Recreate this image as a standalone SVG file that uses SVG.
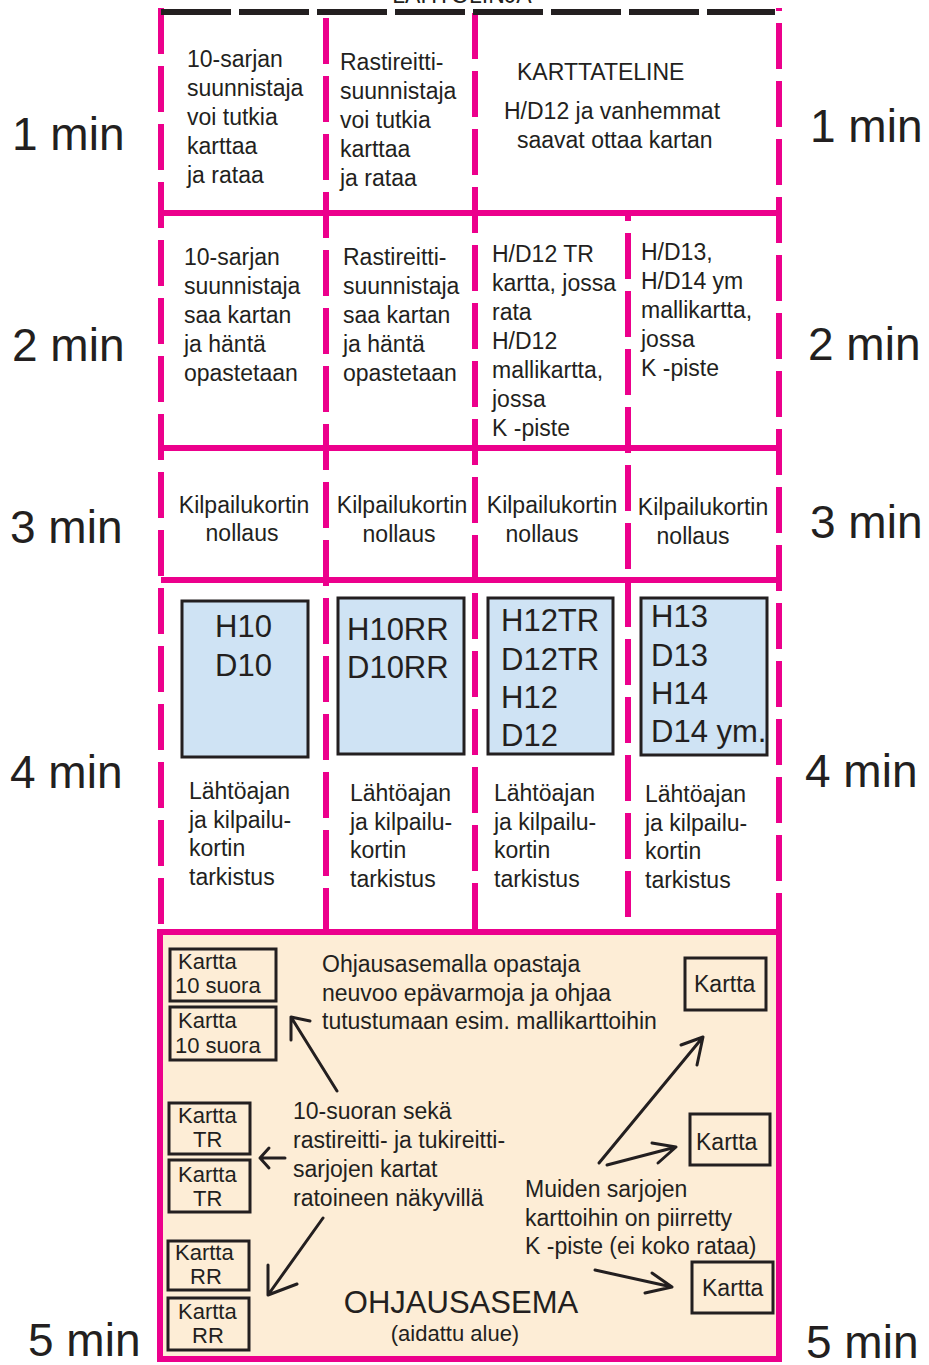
<svg xmlns="http://www.w3.org/2000/svg" width="929" height="1365" viewBox="0 0 929 1365">
<style>
text{font-family:"Liberation Sans",Arial,sans-serif;fill:#231f20}
.t{font-size:23px}
.k{font-size:22px}
.big{font-size:46px}
.box{font-size:31px}
.c{text-anchor:middle}
.pv{stroke:#ec008c;stroke-width:6;fill:none;stroke-dasharray:46 12}
.ph{stroke:#ec008c;stroke-width:6;fill:none}
.bl{fill:#cfe3f4;stroke:#231f20;stroke-width:3}
.kb{fill:none;stroke:#231f20;stroke-width:3}
.ar{stroke:#231f20;stroke-width:3;fill:none;stroke-linecap:round;stroke-linejoin:round}
</style>
<rect x="0" y="0" width="929" height="1365" fill="#ffffff"/>

<g id="ohjausasema-bg">
<rect x="160" y="932" width="619" height="427" fill="#fdedd6" stroke="#ec008c" stroke-width="6"/>
</g>

<g id="grid">
<line class="pv" x1="161" y1="8" x2="161" y2="930"/>
<line class="pv" x1="326" y1="8" x2="326" y2="930" stroke-dashoffset="-10"/>
<line class="pv" x1="475" y1="8" x2="475" y2="930" stroke-dashoffset="-5"/>
<line class="pv" x1="628" y1="213" x2="628" y2="930" stroke-dashoffset="-20"/>
<line class="pv" x1="779" y1="8" x2="779" y2="930" stroke-dashoffset="-15"/>
<line class="ph" x1="161" y1="213" x2="779" y2="213"/>
<line class="ph" x1="161" y1="448" x2="779" y2="448"/>
<line class="ph" x1="161" y1="580" x2="779" y2="580"/>
<line x1="161" y1="12" x2="775" y2="12" stroke="#231f20" stroke-width="6" stroke-dasharray="70 8"/>
<text x="462" y="3" class="t c">LÄHTÖLINJA</text>
</g>

<g id="time-labels">
<text x="12" y="150" class="big">1 min</text>
<text x="810" y="142" class="big">1 min</text>
<text x="12" y="361" class="big">2 min</text>
<text x="808" y="360" class="big">2 min</text>
<text x="10" y="543" class="big">3 min</text>
<text x="810" y="538" class="big">3 min</text>
<text x="10" y="788" class="big">4 min</text>
<text x="805" y="787" class="big">4 min</text>
<text x="28" y="1356" class="big">5 min</text>
<text x="806" y="1358" class="big">5 min</text>
</g>

<g id="r1c1"><text class="t" x="187" y="67">10-sarjan</text><text class="t" x="187" y="96">suunnistaja</text><text class="t" x="187" y="125">voi tutkia</text><text class="t" x="187" y="154">karttaa</text><text class="t" x="187" y="183">ja rataa</text></g>
<g id="r1c2"><text class="t" x="340" y="70">Rastireitti-</text><text class="t" x="340" y="99">suunnistaja</text><text class="t" x="340" y="128">voi tutkia</text><text class="t" x="340" y="157">karttaa</text><text class="t" x="340" y="186">ja rataa</text></g>
<g id="r1c3"><text class="t" x="517" y="80">KARTTATELINE</text><text class="t" x="504" y="119">H/D12 ja vanhemmat</text><text class="t" x="517" y="148">saavat ottaa kartan</text></g>

<g id="r2c1"><text class="t" x="184" y="265">10-sarjan</text><text class="t" x="184" y="294">suunnistaja</text><text class="t" x="184" y="323">saa kartan</text><text class="t" x="184" y="352">ja häntä</text><text class="t" x="184" y="381">opastetaan</text></g>
<g id="r2c2"><text class="t" x="343" y="265">Rastireitti-</text><text class="t" x="343" y="294">suunnistaja</text><text class="t" x="343" y="323">saa kartan</text><text class="t" x="343" y="352">ja häntä</text><text class="t" x="343" y="381">opastetaan</text></g>
<g id="r2c3"><text class="t" x="492" y="262">H/D12 TR</text><text class="t" x="492" y="291">kartta, jossa</text><text class="t" x="492" y="320">rata</text><text class="t" x="492" y="349">H/D12</text><text class="t" x="492" y="378">mallikartta,</text><text class="t" x="492" y="407">jossa</text><text class="t" x="492" y="436">K -piste</text></g>
<g id="r2c4"><text class="t" x="641" y="260">H/D13,</text><text class="t" x="641" y="289">H/D14 ym</text><text class="t" x="641" y="318">mallikartta,</text><text class="t" x="641" y="347">jossa</text><text class="t" x="641" y="376">K -piste</text></g>

<g id="r3c1"><text class="t c" x="244" y="513">Kilpailukortin</text><text class="t c" x="242" y="541">nollaus</text></g>
<g id="r3c2"><text class="t c" x="402" y="513">Kilpailukortin</text><text class="t c" x="399" y="542">nollaus</text></g>
<g id="r3c3"><text class="t c" x="552" y="513">Kilpailukortin</text><text class="t c" x="542" y="542">nollaus</text></g>
<g id="r3c4"><text class="t c" x="703" y="515">Kilpailukortin</text><text class="t c" x="693" y="544">nollaus</text></g>

<g id="start-h10"><rect class="bl" x="182" y="601" width="126" height="156"/><text class="box" x="215" y="637">H10</text><text class="box" x="215" y="676">D10</text></g>
<g id="start-h10rr"><rect class="bl" x="338" y="598" width="126" height="156"/><text class="box" x="347" y="640">H10RR</text><text class="box" x="347" y="678">D10RR</text></g>
<g id="start-h12"><rect class="bl" x="488" y="598" width="125" height="156"/><text class="box" x="501" y="631">H12TR</text><text class="box" x="501" y="670">D12TR</text><text class="box" x="501" y="708">H12</text><text class="box" x="501" y="746">D12</text></g>
<g id="start-h13"><rect class="bl" x="641" y="598" width="126" height="157"/><text class="box" x="651" y="627">H13</text><text class="box" x="651" y="666">D13</text><text class="box" x="651" y="704">H14</text><text class="box" x="651" y="742">D14 ym.</text></g>

<g id="r4c1"><text class="t" x="189" y="799">Lähtöajan</text><text class="t" x="189" y="828">ja kilpailu-</text><text class="t" x="189" y="856">kortin</text><text class="t" x="189" y="885">tarkistus</text></g>
<g id="r4c2"><text class="t" x="350" y="801">Lähtöajan</text><text class="t" x="350" y="830">ja kilpailu-</text><text class="t" x="350" y="858">kortin</text><text class="t" x="350" y="887">tarkistus</text></g>
<g id="r4c3"><text class="t" x="494" y="801">Lähtöajan</text><text class="t" x="494" y="830">ja kilpailu-</text><text class="t" x="494" y="858">kortin</text><text class="t" x="494" y="887">tarkistus</text></g>
<g id="r4c4"><text class="t" x="645" y="802">Lähtöajan</text><text class="t" x="645" y="831">ja kilpailu-</text><text class="t" x="645" y="859">kortin</text><text class="t" x="645" y="888">tarkistus</text></g>

<g id="kartta-10a"><rect class="kb" x="170" y="949" width="106" height="52"/><text class="k" x="178" y="969">Kartta</text><text class="k" x="175" y="993">10 suora</text></g>
<g id="kartta-10b"><rect class="kb" x="170" y="1007" width="106" height="53"/><text class="k" x="178" y="1028">Kartta</text><text class="k" x="175" y="1053">10 suora</text></g>
<g id="kartta-tra"><rect class="kb" x="169" y="1103" width="81" height="51"/><text class="k" x="178" y="1123">Kartta</text><text class="k" x="193" y="1147">TR</text></g>
<g id="kartta-trb"><rect class="kb" x="169" y="1160" width="81" height="52"/><text class="k" x="178" y="1182">Kartta</text><text class="k" x="193" y="1206">TR</text></g>
<g id="kartta-rra"><rect class="kb" x="168" y="1241" width="81" height="49"/><text class="k" x="175" y="1260">Kartta</text><text class="k" x="190" y="1284">RR</text></g>
<g id="kartta-rrb"><rect class="kb" x="168" y="1298" width="81" height="52"/><text class="k" x="178" y="1319">Kartta</text><text class="k" x="192" y="1343">RR</text></g>
<g id="kartta-r1"><rect class="kb" x="685" y="958" width="81" height="52"/><text class="t" x="694" y="992">Kartta</text></g>
<g id="kartta-r2"><rect class="kb" x="690" y="1114" width="80" height="51"/><text class="t" x="696" y="1150">Kartta</text></g>
<g id="kartta-r3"><rect class="kb" x="692" y="1262" width="81" height="51"/><text class="t" x="702" y="1296">Kartta</text></g>

<g id="note-ohjaus"><text class="t" x="322" y="972">Ohjausasemalla opastaja</text><text class="t" x="322" y="1001">neuvoo epävarmoja ja ohjaa</text><text class="t" x="322" y="1029">tutustumaan esim. mallikarttoihin</text></g>
<g id="note-10suora"><text class="t" x="293" y="1119">10-suoran sekä</text><text class="t" x="293" y="1148">rastireitti- ja tukireitti-</text><text class="t" x="293" y="1177">sarjojen kartat</text><text class="t" x="293" y="1206">ratoineen näkyvillä</text></g>
<g id="note-muiden"><text class="t" x="525" y="1197">Muiden sarjojen</text><text class="t" x="525" y="1226">karttoihin on piirretty</text><text class="t" x="525" y="1254">K -piste (ei koko rataa)</text></g>
<g id="title-ohjausasema"><text class="c" x="461" y="1313" font-size="31">OHJAUSASEMA</text><text class="c" x="455" y="1341" font-size="22">(aidattu alue)</text></g>

<g id="connectors">
<path class="ar" d="M337 1091 L291 1017 M291 1040 L291 1017 L310 1021"/>
<path class="ar" d="M285 1158 L260 1158 M269 1148 L260 1158 L269 1168"/>
<path class="ar" d="M323 1218 L268 1295 M268 1265 L268 1295 L297 1284"/>
<path class="ar" d="M599 1163 L703 1037 M681 1045 L703 1037 L697 1065"/>
<path class="ar" d="M607 1165 L676 1147 M652 1143 L676 1147 L658 1163"/>
<path class="ar" d="M595 1270 L672 1287 M652 1273 L672 1287 L645 1293"/>
</g>
</svg>
